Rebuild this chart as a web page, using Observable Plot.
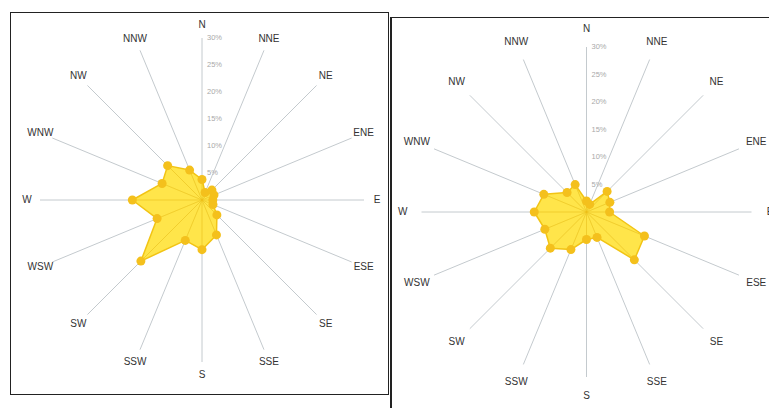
<!DOCTYPE html>
<html><head><meta charset="utf-8">
<script src="https://cdn.jsdelivr.net/npm/d3@7"></script>
<script src="https://cdn.jsdelivr.net/npm/@observablehq/plot@0.6"></script>
<style>
html,body{margin:0;padding:0;background:#fff;width:769px;height:408px;overflow:hidden;position:relative;font-family:"Liberation Sans",Arial,sans-serif}
.box{position:absolute;border:1.6px solid #222;box-sizing:border-box;background:#fff}
.box svg{position:absolute;left:0;top:0}
</style></head><body>
<div id="left" class="box" style="left:10px;top:12px;width:379px;height:383px"></div>
<div id="right" class="box" style="left:390px;top:17px;width:400px;height:410px;border-left-width:2px"></div>
<script>
const directions = ["N","NNE","NE","ENE","E","ESE","SE","SSE","S","SSW","SW","WSW","W","WNW","NW","NNW"];
const leftValues  = [3.8, 1.5, 2.6, 2.4, 2.0, 2.2, 3.9, 7.0, 9.2, 8.1, 16.0, 9.0, 12.9, 8.0, 9.0, 6.0];
const rightValues = [2.0, 1.5, 5.3, 4.6, 4.2, 11.4, 12.3, 5.0, 5.0, 7.4, 9.3, 8.2, 9.5, 8.4, 5.0, 5.4];
const tickValues = [5, 10, 15, 20, 25, 30];
const tickLabels = ["5%", "10%", "15%", "20%", "25%", "30%"];
const maxValue = 30;

function radar(values, w, h, cx, cy, k, labelRadius) {
  const n = directions.length;
  const data = directions.map((d, i) => ({dir: d, value: values[i], angle: i * 2 * Math.PI / n}));
  const X = (r, a) => r * Math.sin(a);
  const Y = (r, a) => r * Math.cos(a);
  const ticks = tickValues.map((v, i) => ({v, label: tickLabels[i]}));
  return Plot.plot({
    width: w, height: h, margin: 0,
    x: {domain: [-cx / k, (w - cx) / k], axis: null},
    y: {domain: [-(h - cy) / k, cy / k], axis: null},
    style: {background: "transparent", fontFamily: "'Liberation Sans', Arial, sans-serif"},
    marks: [
      Plot.link(data, {x1: 0, y1: 0, x2: d => X(maxValue, d.angle), y2: d => Y(maxValue, d.angle), stroke: "#c4cace", strokeWidth: 1}),
      Plot.line(data, {x: d => X(d.value, d.angle), y: d => Y(d.value, d.angle), curve: "linear-closed", fill: "#FFE02A", fillOpacity: 0.85, stroke: "#F2C414", strokeWidth: 1.5}),
      Plot.link(data, {x1: 0, y1: 0, x2: d => X(d.value, d.angle), y2: d => Y(d.value, d.angle), stroke: "#EBBE18", strokeWidth: 0.8, strokeOpacity: 0.6}),
      Plot.dot(data, {x: d => X(d.value, d.angle), y: d => Y(d.value, d.angle), r: 4.5, fill: "#F4C01C"}),
      Plot.text(ticks, {x: 0, y: d => d.v, dx: 5, textAnchor: "start", text: "label", fill: "#a9a9a9", fontSize: 7.5}),
      Plot.text(data, {x: d => X(labelRadius, d.angle), y: d => Y(labelRadius, d.angle), text: "dir", fill: "#333", fontSize: 10})
    ]
  });
}

document.getElementById("left").appendChild(radar(leftValues, 376, 380, 190.5, 186.5, 5.4, 32.4));
document.getElementById("right").appendChild(radar(rightValues, 397, 407, 194, 193.5, 5.5, 33.4));
</script>
</body></html>
